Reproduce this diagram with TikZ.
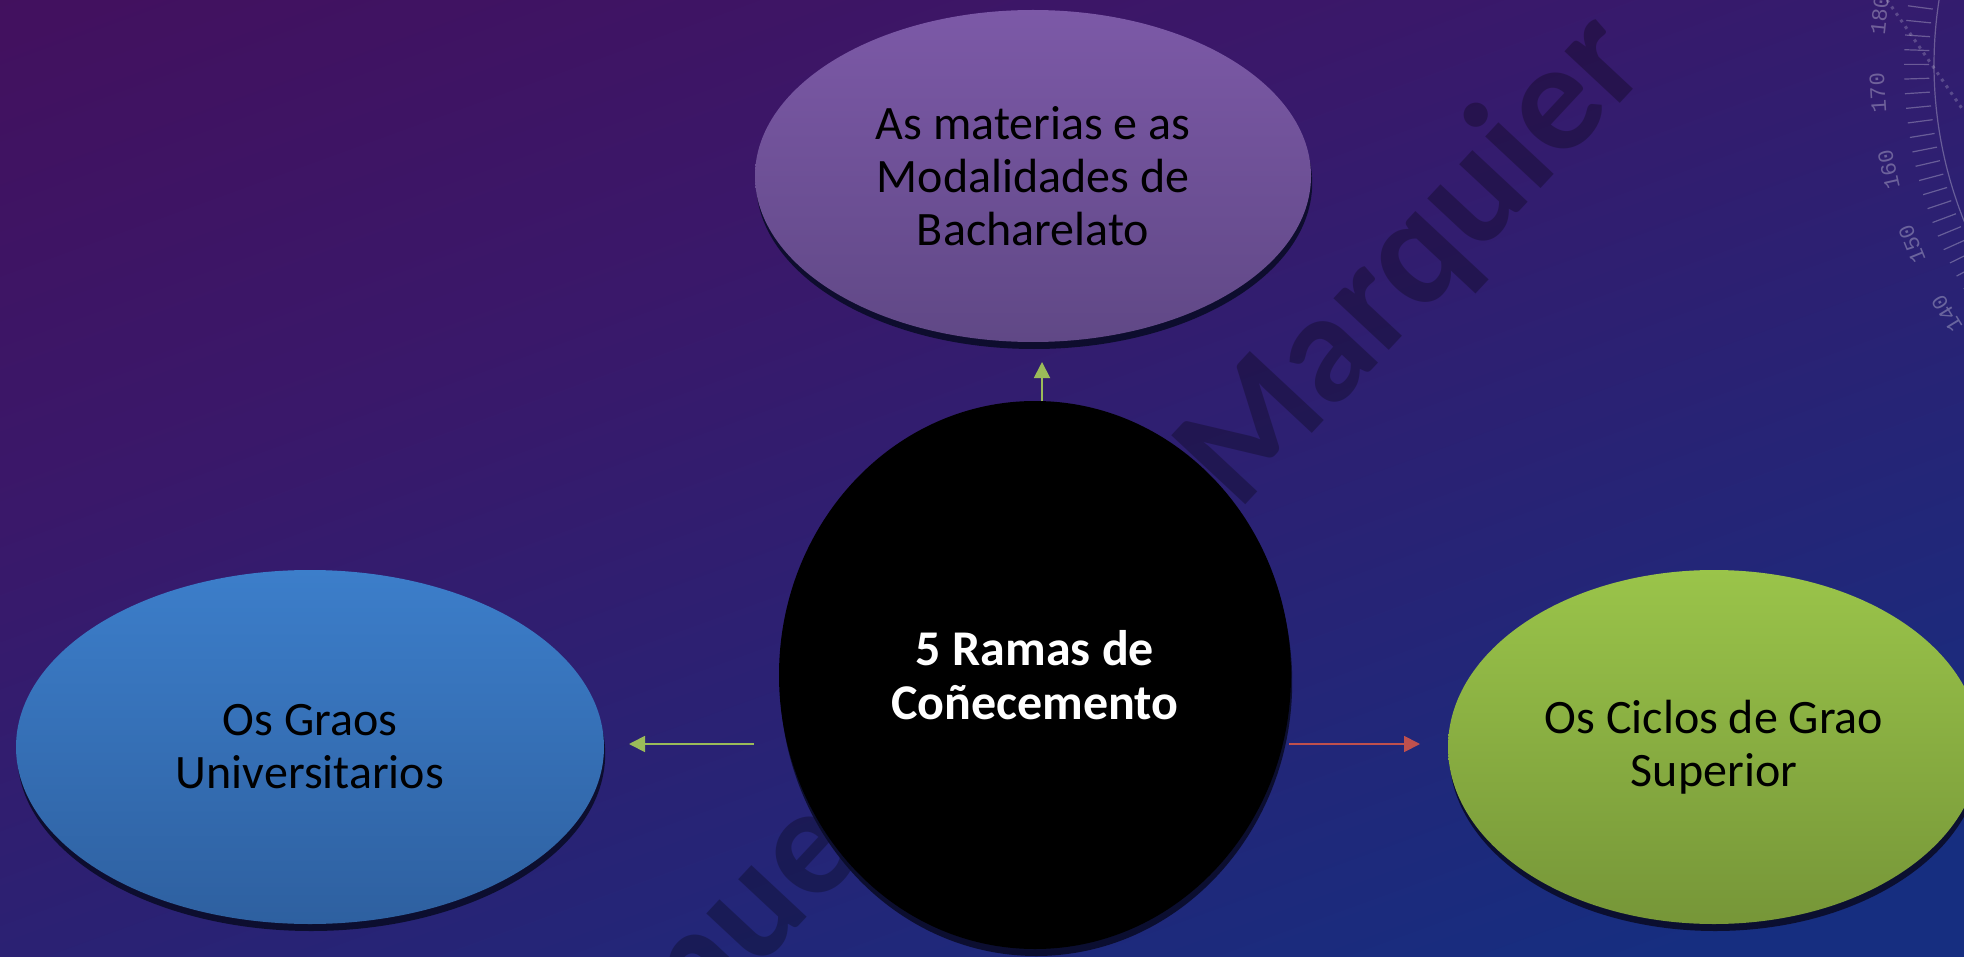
\documentclass[tikz,border=0pt]{standalone}
\usepackage{fontspec}
\setmainfont{Carlito}
\newfontfamily\monofam{Liberation Mono}
\usetikzlibrary{arrows.meta,shapes.geometric,shadows}

\definecolor{bgtop}{RGB}{74,10,84}
\definecolor{bgmid}{RGB}{58,24,106}
\definecolor{bgbot}{RGB}{22,46,128}
\definecolor{purpTop}{RGB}{124,89,167}
\definecolor{purpBot}{RGB}{96,72,134}
\definecolor{blueTop}{RGB}{60,126,202}
\definecolor{blueBot}{RGB}{46,96,160}
\definecolor{grnTop}{RGB}{154,196,74}
\definecolor{grnBot}{RGB}{118,150,56}
\definecolor{shadowcol}{RGB}{10,12,40}
\definecolor{arrGreen}{RGB}{155,187,89}
\definecolor{arrRed}{RGB}{192,80,77}

\pgfdeclareverticalshading{bgshade}{100bp}{color(0bp)=(bgbot); color(22bp)=(bgbot); color(62bp)=(bgmid); color(100bp)=(bgtop)}

\begin{document}
\begin{tikzpicture}[x=0.5pt,y=-0.5pt,
  bubble/.style={ellipse, inner sep=0pt, align=center,
     font=\fontsize{24}{26.5}\selectfont, text=black,
     drop shadow={shadow xshift=0.6pt, shadow yshift=-3.5pt, fill=shadowcol, opacity=0.9}},
  conn/.style={line width=0.9pt, -{Triangle[length=8pt,width=8pt]}},
  wm/.style={font=\fontsize{78}{78}\bfseries\selectfont, text=black, text opacity=0.28, rotate=47, inner sep=0pt},
  dial/.style={white, opacity=0.28, line width=0.6pt},
  dialnum/.style={text=white, text opacity=0.3, font=\monofam\fontsize{11}{11}\selectfont, inner sep=0pt}
]
\useasboundingbox (0,0) rectangle (1964,957);
\shade[shading=bgshade, shading angle=20] (0,0) rectangle (1964,957);

\begin{scope}
\clip (0,0) rectangle (1964,957);
% protractor decoration
\coordinate (P) at (2354,65);
\draw[dial] (P) ++(150:210pt) arc[start angle=150, end angle=222, radius=210pt];
\foreach \a in {150,151.87,...,222} {
  \draw[dial] (P) ++(\a:212.5pt) -- ++(\a:12.5pt);
}
\foreach \n [count=\k from 0] in {180,170,160,150,140} {
  \pgfmathsetmacro\ang{174+9.35*\k}
  \pgfmathsetmacro\rot{\ang-90}
  \node[dialnum, rotate=\rot] at ([shift={(\ang:238.5pt)}]P) {\n};
}
\draw[white, opacity=0.2, line width=1.5pt, dash pattern=on 1.5pt off 2.5pt] (1887,0) -- (1963,110);

% watermark
\node[wm] (wmA) at (1414,262) {Marquier};
\node[wm] (wmB) at (756,917) {nue};
\end{scope}

% nodes
\node[bubble, minimum width=278pt, minimum height=166pt, top color=purpTop, bottom color=purpBot]
  (top) at (1033,176) {As materias e as\\Modalidades de\\Bacharelato};
\node[bubble, minimum width=294pt, minimum height=177pt, top color=blueTop, bottom color=blueBot]
  (left) at (310,747) {Os Graos\\Universitarios};
\node[bubble, minimum width=266pt, minimum height=177pt, top color=grnTop, bottom color=grnBot]
  (right) at (1714,747) {Os Ciclos de Grao\\Superior};
\node[bubble, fill=black, minimum width=256pt, minimum height=274pt, text=white,
  font=\fontsize{25}{27}\bfseries\selectfont]
  (c) at (1035,675) {5 Ramas de\\Coñecemento};

% connectors
\coordinate (uA) at (1042,401);
\coordinate (uB) at (1042,362);
\coordinate (lA) at (754,744);
\coordinate (lB) at (629,744);
\coordinate (rA) at (1289,744);
\coordinate (rB) at (1420,744);
\draw[conn, arrGreen] (uA) -- (uB);
\draw[conn, arrGreen] (lA) -- (lB);
\draw[conn, arrRed] (rA) -- (rB);
\end{tikzpicture}
\end{document}
